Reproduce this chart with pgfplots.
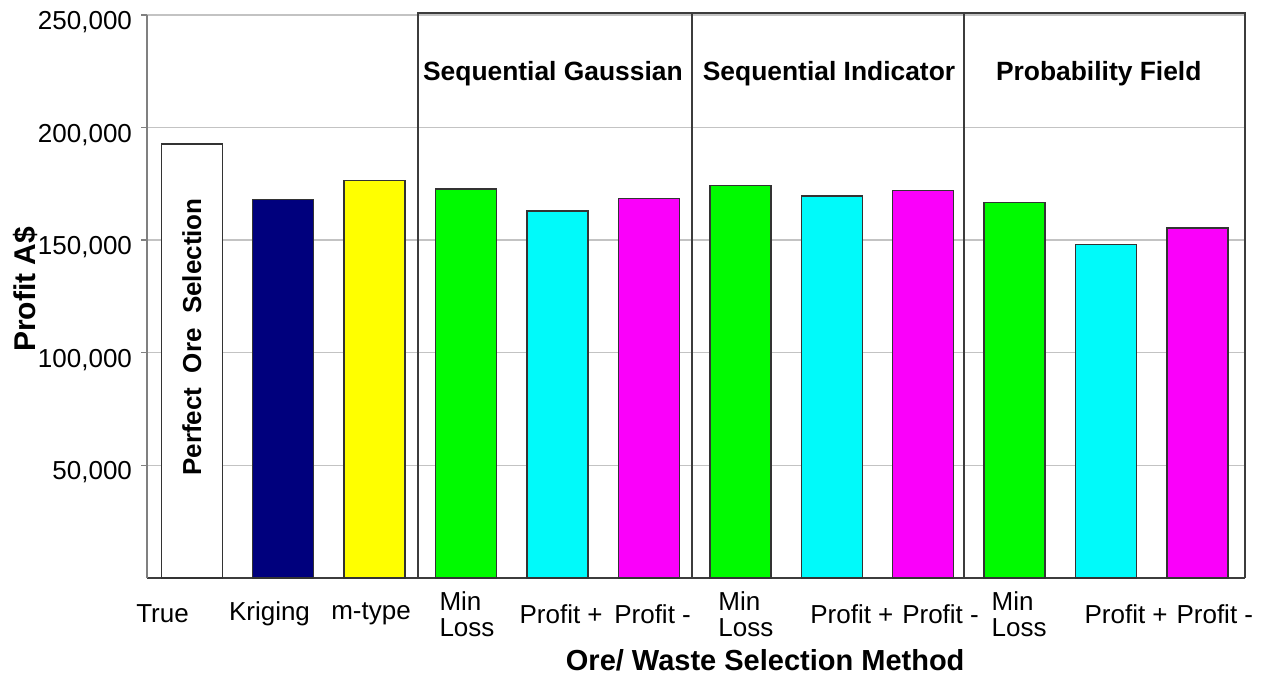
\documentclass[border=0pt]{standalone}
\usepackage{pgfplots}
\pgfplotsset{compat=1.18}
\usepackage{fontspec}
\setmainfont{Liberation Sans}

\definecolor{barnavy}{RGB}{0,0,125}
\definecolor{bargreen}{RGB}{0,250,0}
\definecolor{barcyan}{RGB}{0,250,250}
\definecolor{barmagenta}{RGB}{250,0,250}
\definecolor{baryellow}{RGB}{255,255,0}
\definecolor{boxline}{RGB}{60,60,60}
\definecolor{gridgray}{RGB}{195,195,195}

\begin{document}
\begin{tikzpicture}
\useasboundingbox (0,0) rectangle (632pt,337.5pt);
\begin{axis}[
  at={(73.5pt,48.5pt)}, anchor=south west,
  scale only axis, width=549pt, height=281.5pt,
  xmin=-0.49, xmax=11.52, ymin=0, ymax=250000,
  axis lines=left,
  axis line style={-},
  x axis line style={draw=boxline, line width=0.8pt},
  y axis line style={draw=gray, line width=0.8pt},
  clip=false,
  scaled y ticks=false,
  ytick={50000,100000,150000,200000,250000},
  yticklabels={{50,000},{100,000},{150,000},{200,000},{250,000}},
  ymajorgrids, major grid style={draw=gridgray, line width=0.7pt},
  tick align=outside, major tick length=3pt,
  ytick style={draw=gray, line width=0.7pt},
  xtick style={draw=none},
  yticklabel style={font=\fontsize{13}{14}\selectfont, xshift=-1pt, yshift=-3.5pt},
  xtick={-0.32,0.85,1.96,3.01,4.04,5.04,6.06,7.22,8.19,9.05,10.22,11.19},
  xticklabels={True,Kriging,m-type,{Min\\Loss},Profit +,Profit -,{Min\\Loss},Profit +,Profit -,{Min\\Loss},Profit +,Profit -},
  xticklabel style={font=\fontsize{13}{13}\selectfont, align=left, anchor=center, yshift=-15pt},
]
% Profit for each ore/waste selection method
\addplot[ybar, bar width=0.667, bar shift=0pt, fill=white, draw=black!80, line width=0.7pt]
  coordinates {(0,192700)};
\addplot[ybar, bar width=0.667, bar shift=0pt, fill=barnavy, draw=black!80, line width=0.7pt]
  coordinates {(1,168200)};
\addplot[ybar, bar width=0.667, bar shift=0pt, fill=baryellow, draw=black!80, line width=0.7pt]
  coordinates {(2,176600)};
\addplot[ybar, bar width=0.667, bar shift=0pt, fill=bargreen, draw=black!80, line width=0.7pt]
  coordinates {(3,172700) (6,174200) (9,166800)};
\addplot[ybar, bar width=0.667, bar shift=0pt, fill=barcyan, draw=black!80, line width=0.7pt]
  coordinates {(4,162900) (7,169600) (10,148100)};
\addplot[ybar, bar width=0.667, bar shift=0pt, fill=barmagenta, draw=black!80, line width=0.7pt]
  coordinates {(5,168500) (8,172200) (11,155500)};

% simulation group boxes
\draw[boxline, line width=0.8pt] (axis cs:2.472,0) -- (axis cs:2.472,250800)
  -- (axis cs:11.52,250800) -- (axis cs:11.52,0);
\draw[boxline, line width=0.8pt] (axis cs:5.47,0) -- (axis cs:5.47,250800);
\draw[boxline, line width=0.8pt] (axis cs:8.446,0) -- (axis cs:8.446,250800);

\node[font=\bfseries\fontsize{13.2}{14}\selectfont] at (axis cs:3.95,224000) {Sequential Gaussian};
\node[font=\bfseries\fontsize{13.2}{14}\selectfont] at (axis cs:6.97,224000) {Sequential Indicator};
\node[font=\bfseries\fontsize{13.2}{14}\selectfont] at (axis cs:9.92,224000) {Probability Field};

\node[rotate=90, font=\bfseries\fontsize{13}{14}\selectfont] at (axis cs:0,107000) {Perfect\ \ Ore\ \ Selection};

\node[rotate=90, font=\bfseries\fontsize{15}{16}\selectfont] at (rel axis cs:-0.111,0.513) {Profit A\$};
\node[font=\bfseries\fontsize{14.5}{16}\selectfont] at (rel axis cs:0.563,-0.146) {Ore/ Waste Selection Method};
\end{axis}
\end{tikzpicture}
\end{document}
